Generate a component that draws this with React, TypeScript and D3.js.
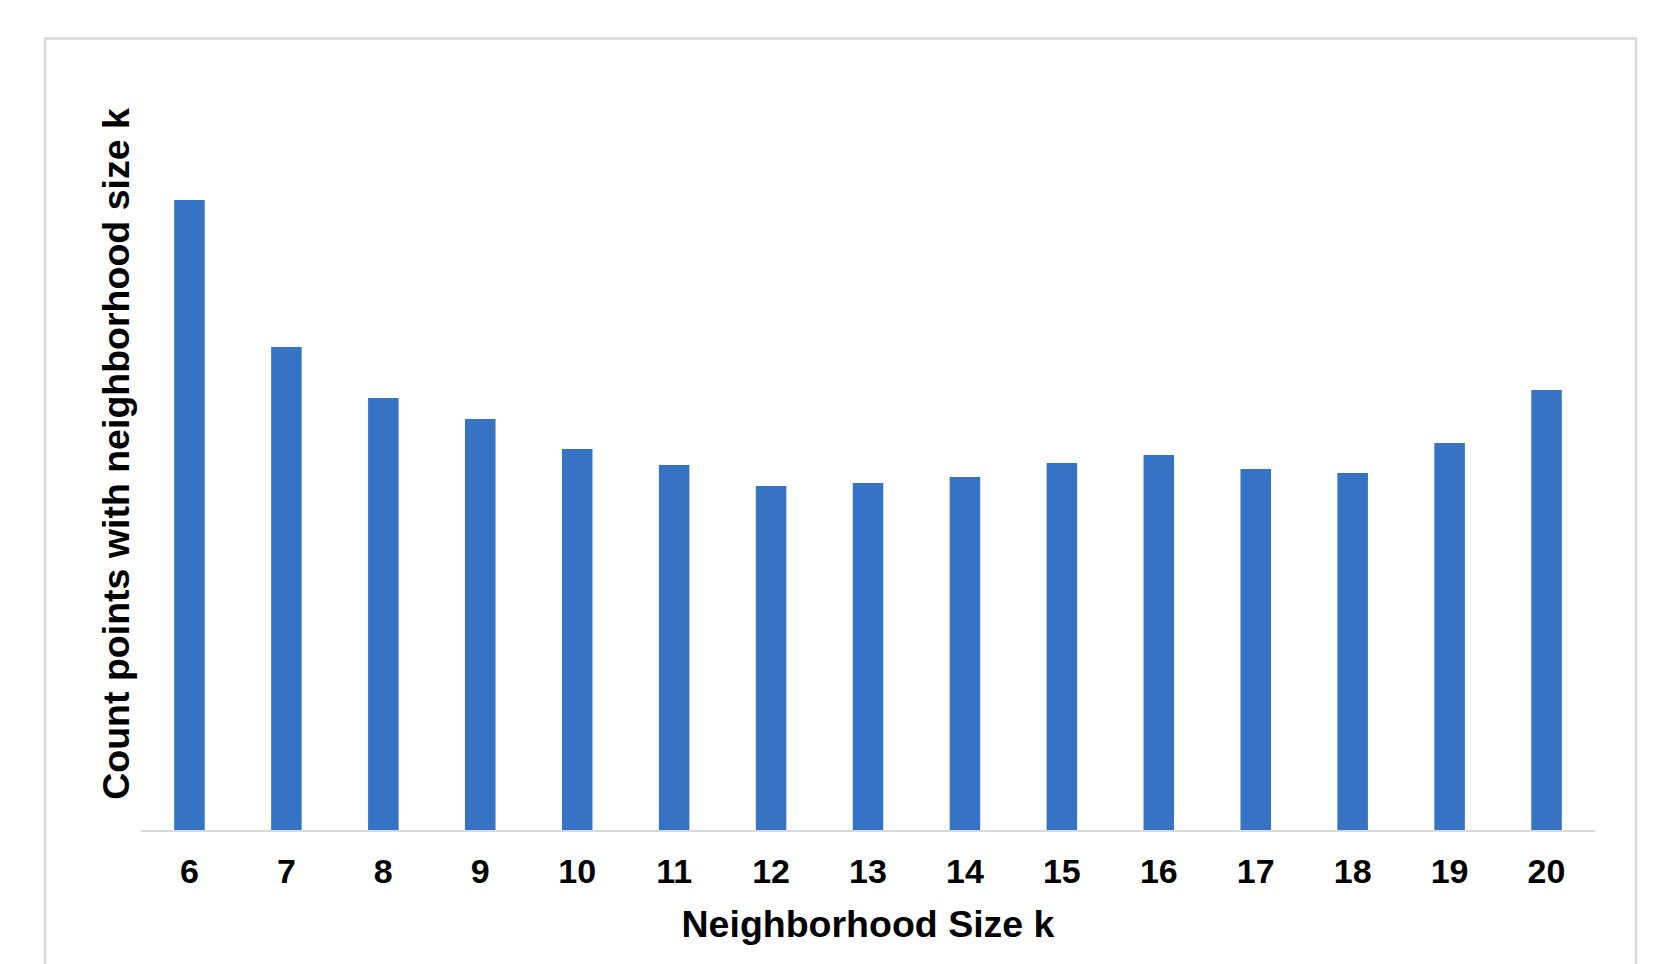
import React from "react";
import * as d3 from "d3";

const categories: string[] = ["6", "7", "8", "9", "10", "11", "12", "13", "14", "15", "16", "17", "18", "19", "20"];
const counts: number[] = [630, 483, 432, 411, 381, 365, 344, 347, 353, 367, 375, 361, 357, 387, 440];
const xTitle = "Neighborhood Size k";
const yTitle = "Count points with neighborhood size k";

const W = 1678;
const H = 964;
const FONT = "'Liberation Sans', Arial, Helvetica, sans-serif";

export default function App() {
  const x = d3
    .scaleBand<string>()
    .domain(categories)
    .range([141, 1595])
    .paddingInner(0.685)
    .paddingOuter(0.3425);
  const y = d3.scaleLinear().domain([0, 630]).range([830, 200]);

  return (
    <svg
      width={W}
      height={H}
      style={{ position: "absolute", left: 0, top: 0, background: "#fff" }}
      fontFamily={FONT}
    >
      <rect x={0} y={0} width={W} height={H} fill="#fff" />
      <rect x={45} y={38.5} width={1591} height={1000} fill="none" stroke="#d9d9d9" strokeWidth={2.5} />
      {categories.map((c, i) => (
        <rect
          key={c}
          x={x(c)}
          y={y(counts[i])}
          width={x.bandwidth()}
          height={y(0) - y(counts[i])}
          fill="#3773c4"
        />
      ))}
      <line x1={141} x2={1595} y1={y(0) + 1} y2={y(0) + 1} stroke="#d9d9d9" strokeWidth={2.2} />
      {categories.map((c) => (
        <text
          key={"t" + c}
          x={(x(c) as number) + x.bandwidth() / 2}
          y={883}
          textAnchor="middle"
          fontSize={34}
          fontWeight="bold"
          fill="#000"
        >
          {c}
        </text>
      ))}
      <text x={868} y={937} textAnchor="middle" fontSize={37.5} fontWeight="bold" fill="#000">
        {xTitle}
      </text>
      <text
        transform={`translate(129,454) rotate(-90)`}
        textAnchor="middle"
        fontSize={37.5}
        fontWeight="bold"
        fill="#000"
      >
        {yTitle}
      </text>
    </svg>
  );
}
